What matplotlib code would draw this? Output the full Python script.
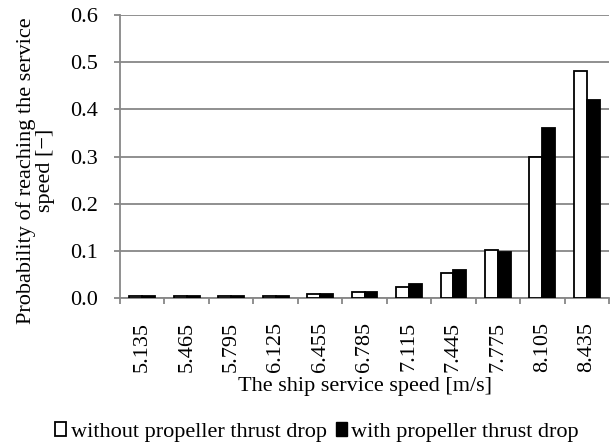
import numpy as np
import matplotlib.pyplot as plt
from matplotlib.patches import Patch

plt.rcParams['font.family'] = ['Liberation Serif', 'DejaVu Serif']

speeds = ["5.135", "5.465", "5.795", "6.125", "6.455", "6.785",
          "7.115", "7.445", "7.775", "8.105", "8.435"]
p_no_drop = [0.005, 0.005, 0.005, 0.005, 0.009, 0.012,
             0.024, 0.054, 0.101, 0.300, 0.482]
p_drop = [0.005, 0.005, 0.005, 0.005, 0.009, 0.012,
          0.029, 0.059, 0.097, 0.361, 0.420]

fs = 16
grey = '#878787'

fig = plt.figure(figsize=(6.13, 4.45), dpi=100)
ax = fig.add_axes([0.1958, 0.3303, 0.7977, 0.636])

x = np.arange(len(speeds))
w = 0.29
ax.bar(x - w / 2, p_no_drop, w, color='white', edgecolor='black', linewidth=1.3, zorder=3)
ax.bar(x + w / 2, p_drop, w, color='black', edgecolor='black', linewidth=1.3, zorder=3)

ax.set_xlim(-0.5, len(speeds) - 0.5)
ax.set_ylim(0, 0.6)
yt = np.arange(0, 0.61, 0.1)
ax.set_yticks(yt)
ax.set_yticklabels([f"{v:.1f}" for v in yt], fontsize=fs)
ax.yaxis.grid(True, color=grey, linewidth=1.3, zorder=0)
ax.tick_params(axis='y', length=4, width=1.3, color=grey, pad=12)

ax.set_xticks(x)
ax.set_xticklabels(speeds, rotation=90, fontsize=fs)
ax.set_xticks(np.arange(-0.5, len(speeds), 1), minor=True)
ax.tick_params(axis='x', which='major', length=0, pad=17)
ax.tick_params(axis='x', which='minor', length=4, width=1.3, color=grey)

for s in ['top', 'right']:
    ax.spines[s].set_visible(False)
for s in ['left', 'bottom']:
    ax.spines[s].set_color(grey)
    ax.spines[s].set_linewidth(1.3)

ax.set_xlabel("The ship service speed [m/s]", fontsize=fs, labelpad=4)
ax.set_ylabel("Probability of reaching the service\nspeed [\u2212]", fontsize=fs,
              linespacing=1.0)
ax.yaxis.set_label_coords(-0.133, 0.45)

handles = [Patch(facecolor='white', edgecolor='black', linewidth=1.3),
           Patch(facecolor='black', edgecolor='black')]
fig.legend(handles, ["without propeller thrust drop", "with propeller thrust drop"],
           loc='center', bbox_to_anchor=(0.517, 0.03), ncol=2, frameon=False,
           fontsize=fs, handlelength=0.5, handleheight=0.6, handletextpad=0.2,
           columnspacing=0.4, borderpad=0, borderaxespad=0)

fig.savefig("out.png", dpi=100)
